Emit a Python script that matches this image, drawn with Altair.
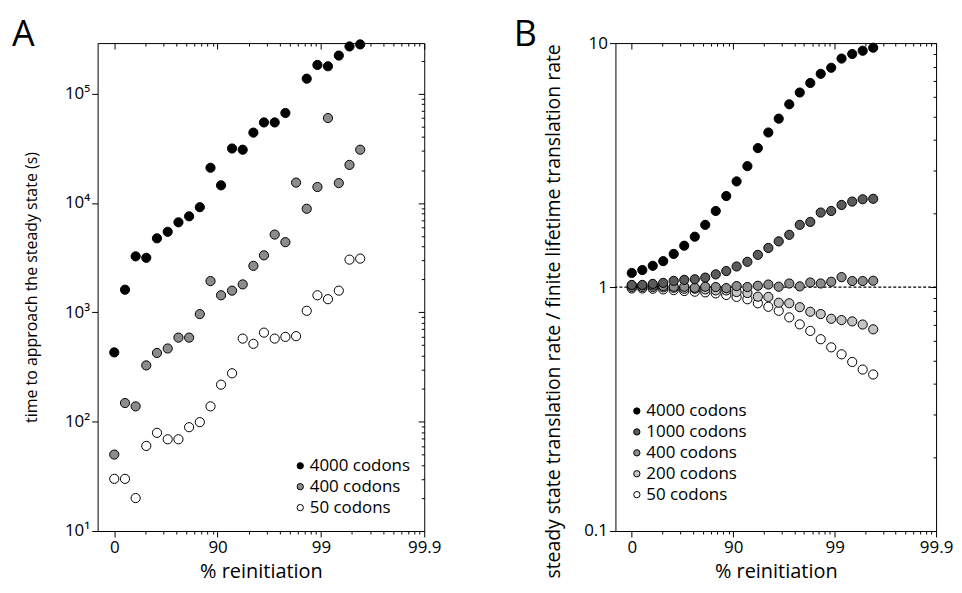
import altair as alt
import pandas as pd

# x grid: 1/(1 - reinitiation fraction) (0 % -> 1, 90 % -> 10, 99 % -> 100)
fold = [1, 1.27, 1.61, 2.04, 2.59, 3.29, 4.18, 5.30, 6.73, 8.54, 10.8, 13.8,
        17.5, 22.2, 28.1, 35.7, 45.3, 57.5, 72.9, 92.5, 117, 149, 189, 240]

# Panel A: time to approach the steady state (s)
a_names = ["4000 codons", "400 codons", "50 codons"]
a_colors = ["#000000", "#8c8c8c", "#ffffff"]
a4000 = [430, 1610, 3250, 3150, 4750, 5450, 6650, 7550, 9150, 21000, 14500, 31500,
         30700, 44000, 54500, 54500, 66500, None, 137000, 183000, 178000, 223000, 270000, 282000]
a400 = [50, 148, 138, 327, 425, 467, 587, 587, 963, 1930, 1432, 1578,
        1800, 2660, 3320, 5140, 4380, 15350, 8850, 14000, 59800, 15200, 22300, 30700]
a50 = [30, 30, 20, 60, 79, 69, 69, 89, 99, 138, 218, 277,
       575, 515, 652, 575, 596, 605, 1032, 1432, 1318, 1578, 3034, 3100]

# Panel B: steady state / finite lifetime translation rate
b_names = ["4000 codons", "1000 codons", "400 codons", "200 codons", "50 codons"]
b_colors = ["#000000", "#5a5a5a", "#8c8c8c", "#c4c4c4", "#ffffff"]
b4000 = [1.142, 1.174, 1.222, 1.277, 1.367, 1.477, 1.608, 1.798, 2.05, 2.36, 2.71, 3.13,
         3.71, 4.30, 4.90, 5.61, 6.27, 6.86, 7.48, 7.92, 8.64, 9.02, 9.30, 9.57]
b1000 = [1.02, 1.02, 1.03, 1.04, 1.06, 1.07, 1.076, 1.093, 1.127, 1.163, 1.214, 1.269,
         1.355, 1.446, 1.539, 1.637, 1.798, 1.849, 2.02, 2.05, 2.17, 2.24, 2.29, 2.30]
b400 = [1.015, 1.015, 1.015, 1.01, 1.003, 1.003, 0.993, 1.003, 1.0, 0.99, 1.009, 1.0,
        1.012, 1.024, 1.003, 1.034, 1.006, 1.044, 1.034, 1.051, 1.098, 1.058, 1.058, 1.061]
b200 = [1.0, 1.0, 1.0, 0.997, 0.993, 0.984, 0.984, 0.978, 0.969, 0.969, 0.954, 0.945,
        0.913, 0.911, 0.862, 0.858, 0.827, 0.792, 0.775, 0.741, 0.732, 0.723, 0.702, 0.671]
b50 = [0.987, 0.987, 0.984, 0.978, 0.972, 0.963, 0.957, 0.951, 0.942, 0.928, 0.911, 0.891,
       0.858, 0.830, 0.799, 0.751, 0.703, 0.661, 0.611, 0.566, 0.530, 0.493, 0.459, 0.438]

x_major = [1, 10, 100, 1000]
x_minor = [m * d for d in (1, 10, 100) for m in range(2, 10)]
a_major = [10, 100, 1000, 10000, 100000]
a_minor = [m * d for d in (10, 100, 1000, 10000, 100000) for m in range(2, 10) if m * d <= 290000]
b_major = [0.1, 1, 10]
b_minor = [m * d for d in (0.1, 1) for m in range(2, 10)]

FONT = "Open Sans"
H = 490


def long_df(names, series):
    rows = []
    # draw lightest first so darker points sit on top
    for name, vals in reversed(list(zip(names, series))):
        for f, v in zip(fold, vals):
            if v is not None:
                rows.append({"fold": f, "value": v, "series": name})
    return pd.DataFrame(rows)


def panel(df, names, colors, ydom, ymaj, ymin, ylabel_expr, ytitle, ytitle_size, letter,
          legx, legy, width, title_x, title_y=None, dashed=False, letter_x=-86):
    xs = alt.Scale(type="log", domain=[0.69, 1000], nice=False)
    ys = alt.Scale(type="log", domain=ydom, nice=False)
    base = alt.Chart(df)
    yaxis_kw = dict(values=ymaj, labelExpr=ylabel_expr, title=ytitle, tickSize=6,
                    domain=False, grid=False, labelFontSize=17, titleFontSize=ytitle_size,
                    titleFontWeight="normal", labelPadding=2, titleX=title_x, labelFlush=False)
    if title_y is not None:
        yaxis_kw["titleY"] = title_y
    pts = base.mark_point(filled=True, size=85, stroke="black", strokeWidth=1, opacity=1).encode(
        x=alt.X("fold:Q", scale=xs, axis=alt.Axis(
            values=x_major,
            labelExpr="datum.value == 1 ? '0' : datum.value == 10 ? '90' : datum.value == 100 ? '99' : '99.9'",
            title="% reinitiation", tickSize=6, domain=False, grid=False, labelFlush=False,
            labelFontSize=17, titleFontSize=20, titleFontWeight="normal",
            labelPadding=3, titlePadding=6)),
        y=alt.Y("value:Q", scale=ys, axis=alt.Axis(**yaxis_kw)),
        fill=alt.Fill("series:N", scale=alt.Scale(domain=names, range=colors),
                      legend=alt.Legend(title=None, orient="none", legendX=legx, legendY=legy,
                                        symbolType="circle", symbolSize=40,
                                        symbolStrokeColor="black", symbolStrokeWidth=1,
                                        labelFontSize=17, labelFont=FONT, rowPadding=3,
                                        labelOffset=1, padding=0)),
    )
    minor_kw = dict(labels=False, title=None, domain=False, grid=False, tickColor="black")
    l2 = base.mark_point(opacity=0).encode(
        x=alt.X("fold:Q", scale=xs, axis=alt.Axis(values=x_minor, tickSize=3, orient="bottom", **minor_kw)),
        y=alt.Y("value:Q", scale=ys, axis=alt.Axis(values=ymaj, tickSize=6, orient="right", offset=-6, **minor_kw)),
    )
    l3 = base.mark_point(opacity=0).encode(
        x=alt.X("fold:Q", scale=xs, axis=alt.Axis(values=x_major, tickSize=6, orient="top", offset=-6, **minor_kw)),
        y=alt.Y("value:Q", scale=ys, axis=alt.Axis(values=ymin, tickSize=3, orient="right", offset=-3, **minor_kw)),
    )
    l4 = base.mark_point(opacity=0).encode(
        x=alt.X("fold:Q", scale=xs, axis=alt.Axis(values=x_minor, tickSize=3, orient="top", offset=-3, **minor_kw)),
        y=alt.Y("value:Q", scale=ys, axis=None),
    )
    lab = alt.Chart(pd.DataFrame({"letter": [letter]})).mark_text(
        fontSize=36, font=FONT, align="left", baseline="alphabetic", color="black").encode(
        text="letter:N", x=alt.value(letter_x), y=alt.value(3))
    layers = [l2, l3, l4]
    if dashed:
        rule = alt.Chart(pd.DataFrame({"ref": [1]})).mark_rule(
            color="black", strokeWidth=1.3, strokeDash=[3, 2]).encode(
            y=alt.Y("ref:Q", scale=ys, axis=None))
        layers.append(rule)
    layers += [pts, lab]
    return alt.layer(*layers).resolve_axis(x="independent", y="independent").properties(
        width=width, height=H)


df_a = long_df(a_names, [a4000, a400, a50])
df_b = long_df(b_names, [b4000, b1000, b400, b200, b50])

sup = "['','\u00b9','\u00b2','\u00b3','\u2074','\u2075'][round(log(datum.value)/LN10)]"
panel_a = panel(df_a, a_names, a_colors, [10, 290000], a_major, a_minor,
                "'10' + " + sup, "time to approach the steady state (s)", 16, "A",
                legx=195, legy=416, width=328, title_x=-58, letter_x=-86)
panel_b = panel(df_b, b_names, b_colors, [0.1, 10], b_major, b_minor,
                "datum.value == 10 ? '10' : datum.value == 1 ? '1' : '0.1'",
                "steady state translation rate / finite lifetime translation rate", 19.5, "B",
                legx=13, legy=361, width=322, title_x=-52, title_y=269, dashed=True,
                letter_x=-102)

chart = alt.hconcat(panel_a, panel_b, spacing=71,
                    padding={"left": 3, "top": 7, "right": 0, "bottom": 0}).resolve_scale(
    fill="independent", x="independent", y="independent").resolve_legend(
    fill="independent").configure_view(stroke="black", strokeWidth=1).configure_axis(
    labelFont=FONT, titleFont=FONT, labelColor="black", titleColor="black",
    titleFontWeight="normal", tickColor="black")

chart.save("out.html", embed_options={"renderer": "svg", "actions": False})
